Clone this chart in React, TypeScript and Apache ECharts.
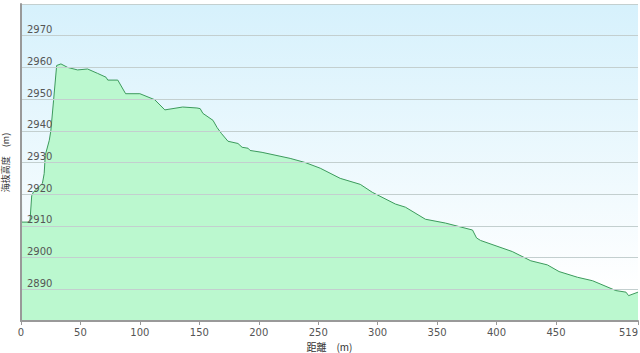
import React, { useEffect, useRef } from "react";
import * as echarts from "echarts";

const distances = [0, 0.5, 7.5, 9, 10.5, 18, 19.5, 20.4, 23.8, 25.1, 27.4, 30, 33.6, 39.2, 47.6, 56, 64.5, 71.5, 73, 81.4, 88, 100, 112.5, 121, 136, 148, 150.7, 153, 161.5, 165, 168.5, 174.1, 182.5, 186, 191, 192.7, 202.8, 226.4, 239, 251.7, 268.5, 285.4, 295.5, 314.9, 323.4, 340.2, 357, 379.8, 383.2, 386.6, 413.3, 428.8, 442.8, 452.6, 468.1, 480.8, 500.4, 508.9, 511.1, 519];
const elevations = [2965.3, 2911.2, 2911.2, 2919.5, 2920.7, 2923.4, 2926.5, 2932.3, 2937, 2940, 2949.6, 2960.6, 2961.1, 2960, 2959.2, 2959.5, 2958.1, 2956.9, 2956, 2956, 2951.7, 2951.7, 2949.8, 2946.6, 2947.5, 2947.2, 2947, 2945.5, 2943.3, 2941, 2939.2, 2936.7, 2936, 2934.8, 2934.5, 2933.8, 2933.2, 2931.3, 2930, 2928.2, 2925, 2923.1, 2920.6, 2916.9, 2915.9, 2912.1, 2910.9, 2908.7, 2906.2, 2905.4, 2901.9, 2899, 2897.7, 2895.6, 2893.8, 2892.7, 2889.6, 2889.1, 2888, 2889.1];
const xTicks = [0, 50, 100, 150, 200, 250, 300, 350, 400, 450, 519];

export default function App() {
  const ref = useRef<HTMLDivElement>(null);
  useEffect(() => {
    const chart = echarts.init(ref.current!, null, { renderer: "svg" });
    const data = distances.map((d, i) => [d, elevations[i]]);
    chart.setOption({
      animation: false,
      grid: {
        left: 21,
        right: 2,
        top: 4,
        bottom: 32,
        containLabel: false,
        outerBoundsMode: "none",
        show: true,
        borderWidth: 0,
        backgroundColor: new echarts.graphic.LinearGradient(0, 0, 0, 1, [
          { offset: 0, color: "#d6f1fc" },
          { offset: 0.9, color: "#ffffff" },
        ]),
      },
      xAxis: {
        type: "value",
        min: 0,
        max: 519,
        name: "距離　(m)",
        nameLocation: "middle",
        nameGap: 18,
        nameTextStyle: { fontSize: 10, color: "#333", fontFamily: "Noto Sans CJK JP" },
        axisLine: { lineStyle: { color: "#999", width: 2 } },
        axisTick: { show: true, length: 4, lineStyle: { color: "#999" }, customValues: xTicks },
        axisLabel: {
          customValues: xTicks,
          color: "#555",
          fontSize: 10,
          margin: 6,
          fontFamily: "DejaVu Sans",
          alignMaxLabel: "right",
          formatter: (v: number) => String(v),
        },
        splitLine: { show: false },
        z: 5,
      },
      yAxis: {
        type: "value",
        min: 2880,
        max: 2980,
        interval: 10,
        name: "海抜高度　(m)",
        nameLocation: "middle",
        nameGap: 11,
        nameRotate: 90,
        nameTextStyle: { fontSize: 9, color: "#333", fontFamily: "Noto Sans CJK JP" },
        axisLine: { show: true, lineStyle: { color: "#999", width: 2 } },
        axisTick: { show: false },
        axisLabel: {
          inside: true,
          showMinLabel: false,
          showMaxLabel: false,
          color: "#555",
          fontSize: 10,
          margin: 6,
          verticalAlign: "bottom",
          padding: [0, 0, 1, 0],
          fontFamily: "DejaVu Sans",
          formatter: (v: number) => String(v),
        },
        splitLine: { show: true, lineStyle: { color: "#c3cfcf", width: 1 } },
        z: 5,
      },
      series: [
        {
          type: "line",
          data,
          symbol: "none",
          lineStyle: { color: "#3c9a5c", width: 1 },
          areaStyle: { color: "#bbf8cf", opacity: 1, origin: "start" },
          z: 1,
        },
      ],
    });
    return () => chart.dispose();
  }, []);
  return <div ref={ref} style={{ width: 640, height: 353, position: "absolute", left: 0, top: 0 }} />;
}
